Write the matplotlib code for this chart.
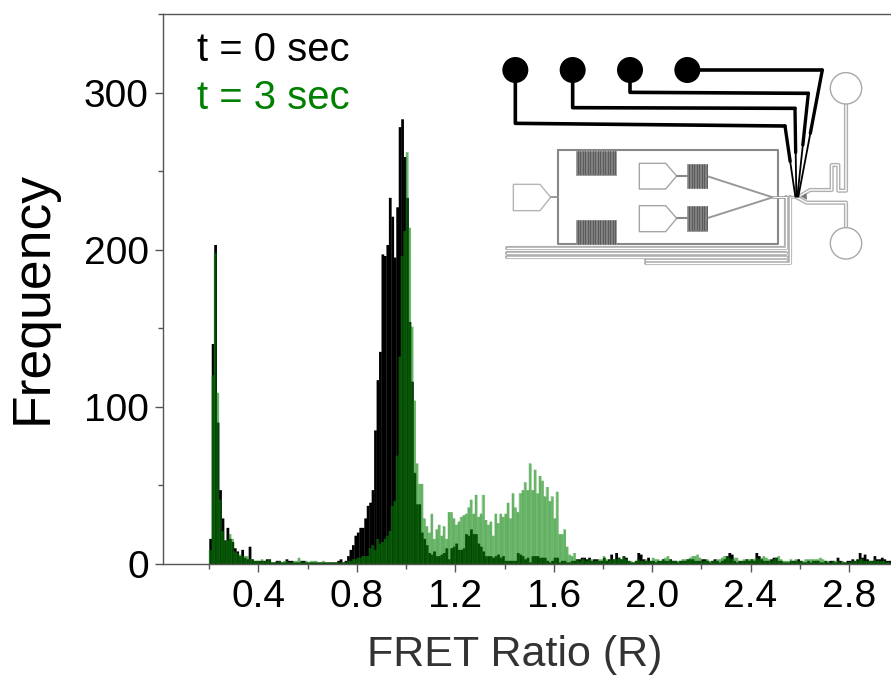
import numpy as np
import matplotlib
matplotlib.use("Agg")
import matplotlib.pyplot as plt
from matplotlib.patches import Circle, Polygon, Rectangle
from matplotlib.ticker import MultipleLocator

plt.rcParams['font.family'] = ['Liberation Sans', 'DejaVu Sans']

bin_start = 0.20
bin_step = 0.01

t0_counts = [
    16,140,203,90,47,29,15,23,16,14,
    10,8,5,9,4,3,11,3,2,2,
    2,2,2,3,3,1,1,2,2,1,
    1,3,2,2,1,1,1,2,2,1,
    1,1,1,1,1,1,1,1,1,1,
    1,1,2,3,1,2,5,9,12,18,
    20,23,23,29,37,39,47,85,117,135,
    197,196,203,233,221,195,227,278,283,259,
    233,154,116,58,38,38,20,16,12,7,
    6,8,5,5,6,7,10,3,10,11,
    13,9,9,10,19,18,22,19,19,13,
    11,8,5,5,5,4,5,6,4,5,
    2,2,2,2,2,7,6,5,3,4,
    1,5,5,5,4,4,4,2,1,2,
    4,4,1,2,2,1,1,2,2,3,
    3,4,4,3,4,2,3,3,2,2,
    4,2,3,6,3,7,4,3,5,4,
    2,1,1,2,7,6,3,2,4,2,
    2,1,2,2,3,2,2,3,2,2,
    1,2,2,2,3,3,3,2,2,2,
    3,3,2,1,2,3,2,1,2,3,
    5,7,6,2,1,2,2,2,3,2,
    3,2,7,5,3,2,2,2,3,4,
    4,2,2,1,1,1,2,2,2,3,
    2,1,1,2,1,2,2,2,1,1,
    2,1,2,2,1,4,2,1,1,2,
    2,3,2,3,7,4,6,3,2,2,
    5,3,3,4,3,2,2,2,1,2,
]
t3_counts = [
    9,120,198,109,41,21,15,15,19,16,
    8,7,6,5,5,5,3,3,2,2,
    2,3,2,2,3,1,1,1,2,1,
    2,2,1,1,2,2,4,2,1,2,
    1,2,2,2,1,1,2,1,1,1,
    1,1,1,1,1,1,2,2,3,3,
    4,4,5,5,5,10,12,9,16,13,
    14,16,18,21,37,40,69,132,196,212,
    262,214,151,104,64,51,51,29,24,20,
    32,16,22,25,18,24,16,33,33,29,
    25,27,30,31,32,36,41,32,44,30,
    32,44,28,25,27,18,32,26,32,30,
    32,39,29,45,36,33,45,47,52,47,
    64,47,60,45,56,53,43,49,40,43,
    29,46,19,19,22,11,6,5,7,3,
    2,3,3,2,3,3,2,2,3,3,
    5,3,2,3,3,3,4,3,5,3,
    2,2,1,2,3,2,2,3,2,2,
    4,3,3,2,3,4,5,3,2,2,
    2,2,3,3,3,4,5,5,6,4,
    2,2,3,2,2,2,3,3,4,5,
    5,4,3,4,4,2,2,3,3,3,
    3,3,4,3,4,5,4,3,2,3,
    4,5,3,2,2,2,3,2,3,2,
    2,2,3,3,3,3,3,3,4,3,
    2,2,1,2,2,2,1,2,1,1,
    1,2,2,2,3,3,2,2,2,2,
    3,2,2,2,2,1,1,1,1,1,
]
x_ticks = [0.4, 0.8, 1.2, 1.6, 2.0, 2.4, 2.8]
x_tick_labels = ['0.4', '0.8', '1.2', '1.6', '2.0', '2.4', '2.8']
y_ticks = [0, 100, 200, 300]

W, H = 891, 675
fig = plt.figure(figsize=(W / 100, H / 100), dpi=100)
ax = fig.add_axes([162.7 / W, (H - 564) / H, (W - 162.7) / W, 550 / H])

edges = bin_start + bin_step * np.arange(len(t0_counts))
# black bars overlap slightly so that no antialiasing seams show through
ax.bar(edges, t0_counts, width=bin_step * 1.12, align='edge', color='black', lw=0, snap=False)
ax.bar(edges, t3_counts, width=bin_step, align='edge', color='#008000', alpha=0.58, lw=0, snap=False)
# light separators between the t = 3 s bars
ax.vlines(edges, 0, t3_counts, color='#2e9a2e', lw=0.35, alpha=0.6)

ax.set_xlim(0.0106, 2.971)
ax.set_ylim(0, 350)
ax.set_xticks(x_ticks)
ax.set_xticklabels(x_tick_labels)
ax.set_yticks(y_ticks)
ax.xaxis.set_minor_locator(MultipleLocator(0.2))
ax.yaxis.set_minor_locator(MultipleLocator(50))
ax.tick_params(axis='both', which='major', labelsize=28, length=6, width=1, color='#555555')
ax.tick_params(axis='x', which='major', pad=5)
ax.tick_params(axis='y', which='major', pad=4)
ax.tick_params(axis='both', which='minor', length=3.5, width=1, color='#555555')
ax.spines['right'].set_visible(False)
for s in ('left', 'top', 'bottom'):
    ax.spines[s].set_color('#555555')
    ax.spines[s].set_linewidth(1.0)

fig.text(515 / W, 1 - 666 / H, 'FRET Ratio (R)', fontsize=31, color='#333333', ha='center', va='baseline')
fig.text(33 / W, 1 - 298 / H, 'Frequency', fontsize=38.5, rotation=90, color='black', ha='center', va='center')
fig.text(197 / W, 1 - 61 / H, 't = 0 sec', fontsize=28.8, color='black', va='baseline')
fig.text(197 / W, 1 - 109 / H, 't = 3 sec', fontsize=28.8, color='#008000', va='baseline')

# Microfluidic chip schematic, drawn in a pixel-space overlay
ov = fig.add_axes([0, 0, 1, 1], facecolor='none')
ov.set_xlim(0, W)
ov.set_ylim(H, 0)
ov.axis('off')


def P(pts):
    a = np.asarray(pts, float)
    return 490 + a[:, 0] / 3, 40 + a[:, 1] / 3


def path(pts, color='#888888', lw=1.1, z=3):
    x, y = P(pts)
    ov.plot(x, y, color=color, lw=lw, zorder=z, solid_joinstyle='round', solid_capstyle='round')


def channel(pts, outer='#b0b0b0', lw=3.0):
    path(pts, outer, lw, 3)
    path(pts, 'white', lw * 0.33, 3.1)


# chip body
path([(205, 330), (865, 330), (865, 612), (205, 612), (205, 330)], '#888888', 1.5)

# serpentine mixers
for x0, x1, y0, y1 in [(258, 378, 332, 404), (258, 378, 540, 612), (592, 650, 372, 445), (592, 650, 498, 572)]:
    xy = P([(x0, y0), (x1, y1)])
    ov.add_patch(Rectangle((xy[0][0], xy[1][0]), xy[0][1] - xy[0][0], xy[1][1] - xy[1][0],
                           fc='#808080', ec='#999999', lw=0.6, zorder=3))
    for xv in np.arange(x0 + 5, x1, 7.5):
        path([(xv, y0 + 1), (xv, y1 - 1)], '#555555', 0.6, 3.2)

# inlet ports
for pts, col in [
    ([(70, 433), (150, 433), (182, 472), (150, 512), (70, 512)], '#b5b5b5'),
    ([(448, 370), (527, 370), (560, 408), (527, 447), (448, 447)], '#a5a5a5'),
    ([(448, 497), (527, 497), (560, 535), (527, 575), (448, 575)], '#a5a5a5'),
]:
    x, y = P(pts)
    ov.add_patch(Polygon(np.c_[x, y], closed=True, fc='white', ec=col, lw=1.0, zorder=3, joinstyle='round'))
path([(182, 472), (205, 472)], '#999999', 1.4)
path([(560, 408), (592, 408)], '#888888', 1.5)
path([(560, 535), (592, 535)], '#888888', 1.5)
path([(650, 408), (848, 472)], '#999999', 1.4)
path([(650, 535), (848, 472)], '#999999', 1.4)

# waste channels
channel([(50, 625), (888, 625), (888, 472)])
channel([(50, 638), (888, 638)])
channel([(50, 650), (888, 650)])
channel([(468, 668), (900, 668), (900, 472)])
channel([(468, 659), (888, 659)])
channel([(848, 472), (890, 472)], '#a0a0a0', 2.0)
channel([(905, 472), (925, 470)], '#a0a0a0', 2.0)

# right-hand reservoirs and channels
channel([(1068, 192), (1068, 452), (1045, 452), (1045, 375), (1025, 375), (1025, 450), (960, 450), (930, 468)])
channel([(1068, 563), (1068, 488), (950, 488), (920, 472)])
for cy in (145, 610):
    cx_p, cy_p = P([(1068, cy)])
    ov.add_patch(Circle((cx_p[0], cy_p[0]), 15.7, fc='white', ec='#a8a8a8', lw=1.0, zorder=3.5))
x, y = P([(932, 468), (948, 458), (950, 478)])
ov.add_patch(Polygon(np.c_[x, y], closed=True, fc='#777777', ec='#777777', lw=0.5, zorder=3))

# black control lines and pads: long runs, then thin tapered ends
control_lines = [
    [(76, 90), (76, 250), (885, 258)],
    [(248, 90), (248, 203), (915, 205)],
    [(420, 90), (420, 157), (955, 160)],
    [(592, 90), (997, 90)],
]
control_ends = [
    [(885, 258), (916, 470)],
    [(915, 205), (919, 470)],
    [(955, 160), (922, 470)],
    [(997, 90), (925, 470)],
]
for pts in control_lines:
    path(pts, '#000000', 2.6, 4)
for pts in control_ends:
    x, y = P(pts)
    mx, my = (x[0] + x[1]) / 2, (y[0] + y[1]) / 2
    ov.plot([x[0], mx], [y[0], my], color='black', lw=2.4, zorder=4, solid_capstyle='round')
    ov.plot([mx, x[1]], [my, y[1]], color='black', lw=1.3, zorder=4, solid_capstyle='round')
for cx in (76, 248, 420, 592):
    cx_p, cy_p = P([(cx, 90)])
    ov.add_patch(Circle((cx_p[0], cy_p[0]), 13, fc='black', ec='none', zorder=4.5))

fig.savefig('out.png', dpi=100)
